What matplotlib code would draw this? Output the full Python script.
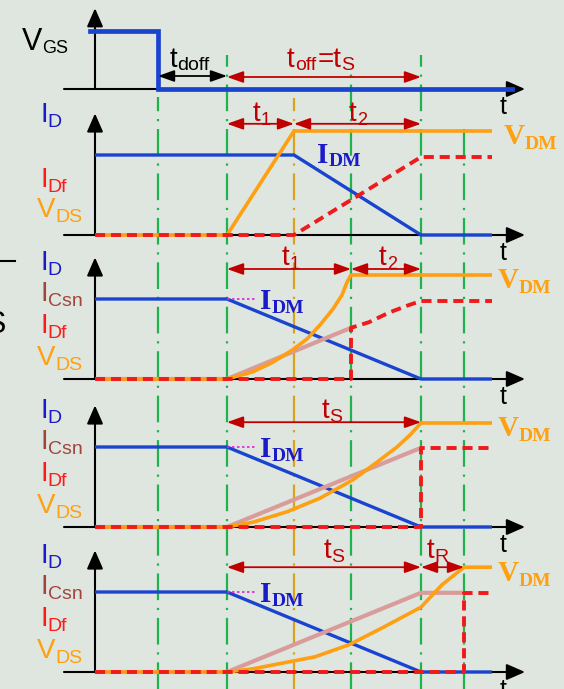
import matplotlib
matplotlib.use("Agg")
import matplotlib.pyplot as plt

# ---- time markers (arbitrary units, 0 = vertical axis of each trace) ----
T_VGS_START = -0.5
T_GATE_OFF = 6.3      # gate command falls
T_DOFF_END = 13.2     # end of turn-off delay
T1_END = 19.9         # end of t1 (no snubber)
T_MID = 25.6          # end of t1 with small snubber
T_S_END = 32.6        # current reaches zero
T_R_END = 36.9        # end of t_R
T_AXIS_START = -3.1
T_AXIS_END = 43.0
T_TRACE_END = 39.7
T_VGS_END = 41.7

# ---- levels, normalised to the on-state drain current ----
VGS_HIGH = 0.72
I_ON = 1.0
V_DM = 1.3
I_DF_END = 0.975

# (a) gate voltage
vgs_t = [T_VGS_START, T_GATE_OFF, T_GATE_OFF, T_VGS_END]
vgs_v = [VGS_HIGH, VGS_HIGH, 0.0, 0.0]

# (b) no snubber
p2_id_t = [0, T1_END, T_S_END, T_TRACE_END]
p2_id_v = [I_ON, I_ON, 0.0, 0.0]
p2_vds_t = [0, T_DOFF_END, T1_END, T_TRACE_END]
p2_vds_v = [0.0, 0.0, V_DM, V_DM]
p2_idf_t = [0, T1_END, T_S_END, T_TRACE_END]
p2_idf_v = [0.0, 0.0, I_DF_END, I_DF_END]

# (c) small snubber capacitor
p3_id_t = [0, T_DOFF_END, T_S_END, T_TRACE_END]
p3_id_v = [I_ON, I_ON, 0.0, 0.0]
p3_csn_t = [0, T_DOFF_END, T_MID]
p3_csn_v = [0.0, 0.0, 0.64]
p3_vds_t = [0, 13.2, 15.8, 17.8, 19.7, 21.2, 22.5, 23.8, 24.7, 25.2, 25.6, T_TRACE_END]
p3_vds_v = [0.0, 0.0, 0.09, 0.21, 0.36, 0.50, 0.675, 0.875, 1.05, 1.21, 1.30, 1.30]
p3_idf_t = [0, T_MID, T_MID, 27.4, 29.4, 31.4, T_S_END, T_TRACE_END]
p3_idf_v = [0.0, 0.0, 0.64, 0.71, 0.83, 0.925, 0.975, 0.975]

# (d) snubber sized for t_S
p4_id_t = [0, T_DOFF_END, T_S_END, T_TRACE_END]
p4_id_v = [I_ON, I_ON, 0.0, 0.0]
p4_csn_t = [0, T_DOFF_END, T_S_END]
p4_csn_v = [0.0, 0.0, 0.99]
p4_vds_t = [0, 13.2, 15.8, 19.2, 22.5, 25.8, 28.2, 30.2, 31.5, 32.6, T_TRACE_END]
p4_vds_v = [0.0, 0.0, 0.06, 0.19, 0.36, 0.59, 0.81, 1.00, 1.15, 1.30, 1.30]
p4_idf_t = [0, T_S_END, T_S_END, T_TRACE_END]
p4_idf_v = [0.0, 0.0, 0.99, 0.99]

# (e) large snubber capacitor
p5_id_t = [0, T_DOFF_END, T_S_END, T_TRACE_END]
p5_id_v = [I_ON, I_ON, 0.0, 0.0]
p5_csn_t = [0, T_DOFF_END, T_S_END, T_R_END]
p5_csn_v = [0.0, 0.0, 0.99, 0.99]
p5_vds_t = [0, 13.2, 15.8, 18.7, 22.0, 25.4, 28.7, 32.6, 34.7, T_R_END, T_TRACE_END]
p5_vds_v = [0.0, 0.0, 0.04, 0.11, 0.19, 0.34, 0.55, 0.81, 1.09, 1.31, 1.31]
p5_idf_t = [0, T_R_END, T_R_END, T_TRACE_END]
p5_idf_v = [0.0, 0.0, 0.99, 0.99]

# ---- layout: baseline of each trace in axis units ----
BASE = [7.5, 5.675, 3.875, 2.025, 0.2125]

BG = "#dfe6df"
BLUE = "#1a44d0"
ORANGE = "#ff9f12"
RED = "#f01a1a"
PINK = "#d99c9a"
GREEN = "#1fb34f"
GOLD = "#d8a21c"
DARKRED = "#c00000"
LBL_BLUE = "#1a1ac8"
LBL_BROWN = "#a0443c"
LBL_RED = "#ff1a1a"
LBL_ORANGE = "#ffa010"
SANS = "Liberation Sans"
SERIF = "Liberation Serif"

fig = plt.figure(figsize=(5.64, 6.89), dpi=100, facecolor=BG)
ax = fig.add_axes([0, 0, 1, 1])
ax.set_facecolor(BG)
ax.set_xlim(-9.5, 46.9)
ax.set_ylim(0, 8.6125)
ax.axis("off")


def sublabel(x, y, main, sub, color, size=20, subsize=14, family=SANS,
             weight="normal", dy=0.0, dx=0.0):
    t = ax.text(x, y, main, color=color, fontsize=size, family=family,
                weight=weight, ha="left", va="baseline")
    ax.annotate(sub, xy=(1, 0), xycoords=t, xytext=(dx, dy),
                textcoords="offset points", color=color, fontsize=subsize,
                family=family, weight=weight, ha="left", va="bottom")
    return t


def axes_arrows(base, top, x_start=T_AXIS_START):
    ax.annotate("", xy=(T_AXIS_END, base), xytext=(x_start, base),
                arrowprops=dict(arrowstyle="-|>,head_length=0.8,head_width=0.35",
                                color="k", lw=1.5, mutation_scale=14,
                                shrinkA=0, shrinkB=0), zorder=2)
    ax.annotate("", xy=(0, base + top), xytext=(0, base),
                arrowprops=dict(arrowstyle="-|>,head_length=0.8,head_width=0.35",
                                color="k", lw=1.5, mutation_scale=14,
                                shrinkA=0, shrinkB=0), zorder=2)
    ax.text(40.5, base - 0.31, "t", fontsize=18, family=SANS, color="k",
            ha="left", va="baseline")


def span(x0, x1, y, color=DARKRED):
    ax.annotate("", xy=(x1, y), xytext=(x0, y),
                arrowprops=dict(arrowstyle="<|-|>,head_length=0.7,head_width=0.25",
                                color=color, lw=1.3, mutation_scale=14,
                                shrinkA=0, shrinkB=0), zorder=6)


def trace(t, v, base, color, lw, zorder, **kw):
    ax.plot(t, [base + val for val in v], color=color, lw=lw, zorder=zorder,
            solid_capstyle="butt", **kw)


red_dash = dict(ls=(0, (2.6, 1.5)), dash_capstyle="butt")

# ---- vertical guide lines ----
guides = [(T_GATE_OFF, 7.4, GREEN), (T_DOFF_END, 7.925, GREEN),
          (T1_END, 7.3875, GOLD), (T_MID, 7.7125, GREEN),
          (T_S_END, 7.925, GREEN), (T_R_END, 7.05, GREEN)]
for x, top, c in guides:
    ax.plot([x, x], [0, top], color=c, lw=1.6, ls=(0, (12, 3.5, 1, 3.5)), zorder=1)

# ---- (a) V_GS ----
b = BASE[0]
axes_arrows(b, 1.01)
ax.plot(vgs_t, [b + v for v in vgs_v], color=BLUE, lw=3.4, zorder=4,
        solid_joinstyle="miter")
sublabel(-7.3, 7.9875, "V", "GS", "k", size=22, subsize=13)
span(T_GATE_OFF, T_DOFF_END, b + 0.1625, color="k")
span(T_DOFF_END, T_S_END, b + 0.15)
sublabel(7.5, 7.775, "t", "doff", "k", size=20, subsize=14, dy=-1)
sublabel(19.2, 7.775, "t", "off", DARKRED, size=20, subsize=14, dy=-1)
sublabel(22.25, 7.775, "=t", "S", DARKRED, size=20, subsize=14, dy=-1)

# ---- (b) ----
b = BASE[1]
axes_arrows(b, 1.52)
trace(p2_id_t, p2_id_v, b, BLUE, 2.4, 4)
trace(p2_vds_t, p2_vds_v, b, ORANGE, 2.6, 5)
trace(p2_idf_t, p2_idf_v, b, RED, 2.8, 6, **red_dash)
span(T_DOFF_END, T1_END, b + 1.39)
span(T1_END, T_S_END, b + 1.39)
sublabel(15.8, b + 1.42, "t", "1", DARKRED, size=20, subsize=13, dy=-1.5)
sublabel(25.4, b + 1.42, "t", "2", DARKRED, size=20, subsize=13, dy=-1.5)
sublabel(-5.5, b + 1.41, "I", "D", LBL_BLUE, dy=-2)
sublabel(-5.5, b + 0.6, "I", "Df", LBL_RED, dy=-2)
sublabel(-5.8, b + 0.22, "V", "DS", LBL_ORANGE, dy=-2)
sublabel(22.2, b + 0.9, "I", "DM", LBL_BLUE, size=21, subsize=14,
         family=SERIF, weight="bold", dy=-1)
sublabel(40.9, b + 1.14, "V", "DM", LBL_ORANGE, size=21, subsize=14,
         family=SERIF, weight="bold", dy=-2)

# ---- (c), (d), (e) with snubber ----
snub = [
    (BASE[2], p3_id_t, p3_id_v, p3_csn_t, p3_csn_v, p3_vds_t, p3_vds_v, p3_idf_t, p3_idf_v),
    (BASE[3], p4_id_t, p4_id_v, p4_csn_t, p4_csn_v, p4_vds_t, p4_vds_v, p4_idf_t, p4_idf_v),
    (BASE[4], p5_id_t, p5_id_v, p5_csn_t, p5_csn_v, p5_vds_t, p5_vds_v, p5_idf_t, p5_idf_v),
]
for b, it, iv, ct, cv, vt, vv, ft, fv in snub:
    axes_arrows(b, 1.52)
    trace(it, iv, b, BLUE, 2.4, 3)
    trace(ct, cv, b, PINK, 3.0, 4)
    trace(vt, vv, b, ORANGE, 2.6, 5)
    trace(ft, fv, b, RED, 2.8, 6, **red_dash)
    ax.plot([T_DOFF_END, 16.2], [b + I_ON, b + I_ON], color="#e020e0",
            lw=1.2, ls=(0, (1.5, 1.5)), zorder=3)
    sublabel(-5.5, b + 1.36, "I", "D", LBL_BLUE, dy=-2)
    sublabel(-5.5, b + 0.97, "I", "Csn", LBL_BROWN, dy=-2)
    sublabel(-5.5, b + 0.57, "I", "Df", LBL_RED, dy=-2)
    sublabel(-5.8, b + 0.17, "V", "DS", LBL_ORANGE, dy=-2)
    sublabel(16.5, b + 0.87, "I", "DM", LBL_BLUE, size=21, subsize=14,
             family=SERIF, weight="bold", dy=-1)
    sublabel(40.3, b + 1.14, "V", "DM", LBL_ORANGE, size=21, subsize=14,
             family=SERIF, weight="bold", dy=-2)

b = BASE[2]
span(T_DOFF_END, T_MID, b + 1.375)
span(T_MID, T_S_END, b + 1.375)
sublabel(18.7, b + 1.42, "t", "1", DARKRED, size=20, subsize=13, dy=-1.5)
sublabel(28.4, b + 1.42, "t", "2", DARKRED, size=20, subsize=13, dy=-1.5)

b = BASE[3]
span(T_DOFF_END, T_S_END, b + 1.31)
sublabel(22.7, b + 1.36, "t", "S", DARKRED, size=20, subsize=14, dy=-1.5)

b = BASE[4]
span(T_DOFF_END, T_S_END, b + 1.31)
span(T_S_END, T_R_END, b + 1.31)
sublabel(22.9, b + 1.42, "t", "S", DARKRED, size=20, subsize=14, dy=-1.5)
sublabel(33.2, b + 1.42, "t", "R", DARKRED, size=20, subsize=14, dy=-1.5)

# fragments of neighbouring slide text at the left edge
ax.plot([-9.5, -8.0], [5.35, 5.35], color="k", lw=1.5)
ax.text(-8.9, 4.45, "S", fontsize=22, family=SANS, color="k",
        ha="right", va="baseline")

fig.savefig("out.png", dpi=100, facecolor=BG)
